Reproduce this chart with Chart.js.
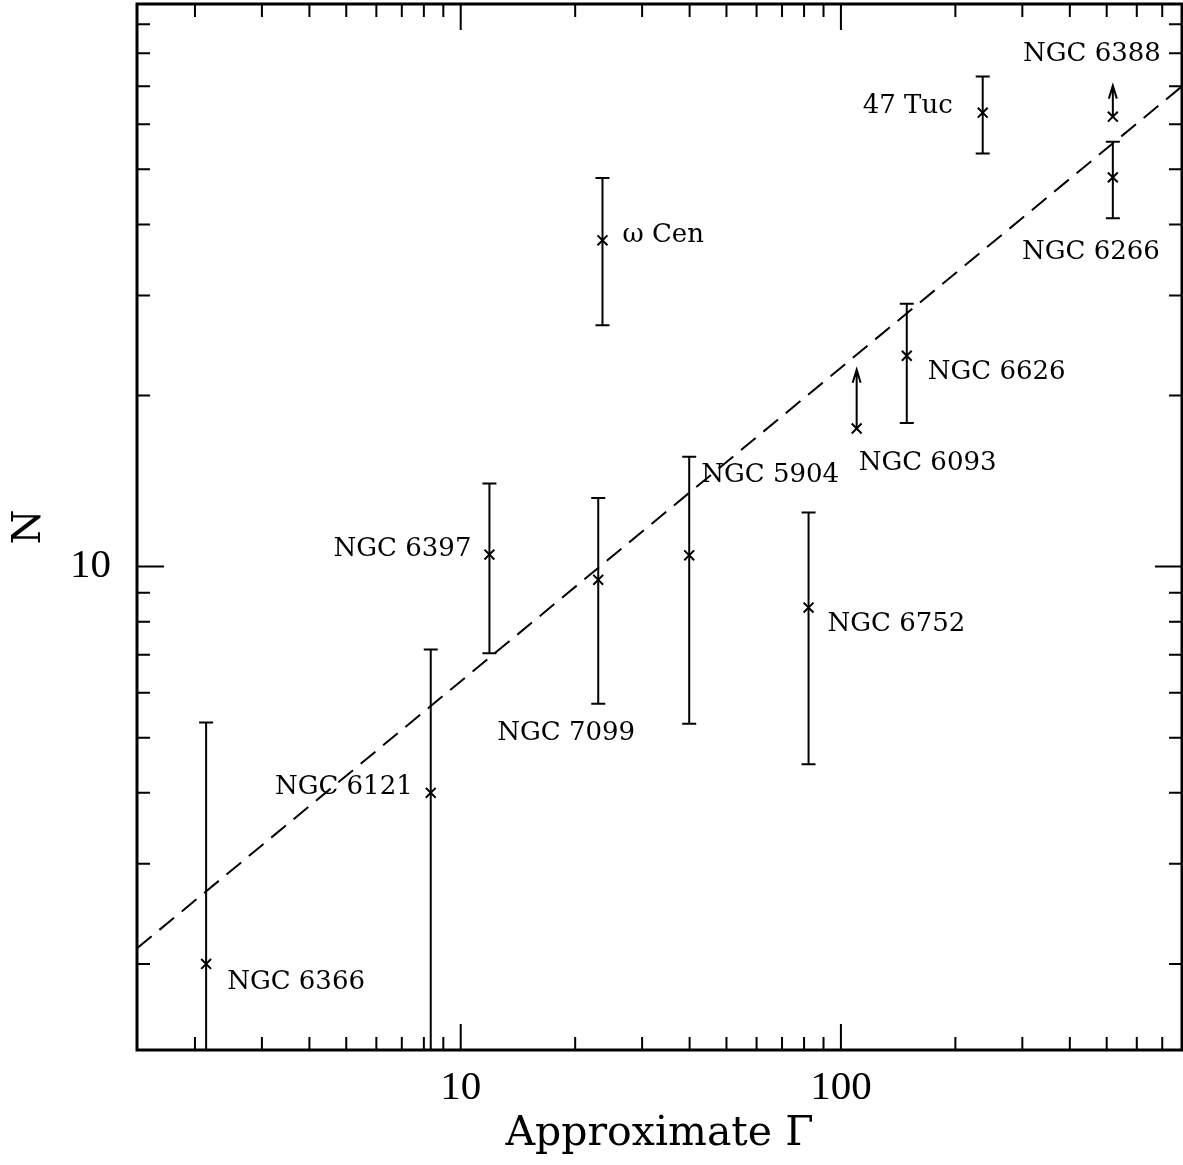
<!DOCTYPE html>
<html>
<head>
<meta charset="utf-8">
<title>N vs approximate Gamma</title>
<script src="https://cdn.jsdelivr.net/npm/chart.js@4.4.1/dist/chart.umd.min.js"></script>
<style>
  html, body { margin: 0; padding: 0; background: #fff; }
  #wrap { width: 1183px; height: 1165px; position: relative; }
</style>
</head>
<body>
<div id="wrap"><canvas id="chart"></canvas></div>
<script>
// ---------------------------------------------------------------------------
// Values (log-log axes)
// ---------------------------------------------------------------------------
const clusters = ['NGC 6366', 'NGC 6121', 'NGC 6397', 'NGC 7099', 'ω Cen', 'NGC 5904',
                  'NGC 6752', 'NGC 6093', 'NGC 6626', '47 Tuc', 'NGC 6388', 'NGC 6266'];
const gamma  = [2.14, 8.34, 11.9, 23.0, 23.6, 39.9, 82.2, 110, 149, 236, 519, 519];
const nValue = [2.00, 4.00, 10.5, 9.48, 37.5, 10.47, 8.47, 17.5, 23.5, 62.9, 61.9, 48.4];
const nUpper = [5.32, 7.15, 14.0, 13.2, 48.3, 15.6, 12.45, null, 29.0, 72.8, null, 55.9];
const nLower = [1.0, 1.0, 7.04, 5.74, 26.6, 5.29, 4.49, null, 17.9, 53.3, null, 41.0];
// lower limits: arrow drawn from the point up to this value
const nLimitTo = [null, null, null, null, null, null, null, 22.2, null, null, 70.2, null];

// dashed fit line, end points at the plot edges
const fitGamma = [1.408, 789];
const fitN = [2.13, 70.0];

const xRange = [1.408, 789];
const yRange = [1.411, 97.7];
const xMajorTicks = [10, 100];
const xMinorTicks = [2, 3, 4, 5, 6, 7, 8, 9, 20, 30, 40, 50, 60, 70, 80, 90, 200, 300, 400, 500, 600, 700];
const yMajorTicks = [10];
const yMinorTicks = [2, 3, 4, 5, 6, 7, 8, 9, 20, 30, 40, 50, 60, 70, 80, 90];

// label placement relative to each marker, in pixels (layout only)
const labelLayout = [
  { dx: 21, dy: 16, align: 'left' },     // NGC 6366
  { dx: -18, dy: -8, align: 'right' },   // NGC 6121
  { dx: -18, dy: -8, align: 'right' },   // NGC 6397
  { dx: -101, dy: 151, align: 'left' },  // NGC 7099
  { dx: 20, dy: -8, align: 'left' },     // omega Cen
  { dx: 12, dy: -83, align: 'left' },    // NGC 5904
  { dx: 19, dy: 14, align: 'left' },     // NGC 6752
  { dx: 2, dy: 32, align: 'left' },      // NGC 6093
  { dx: 21, dy: 14, align: 'left' },     // NGC 6626
  { dx: -30, dy: -9, align: 'right' },   // 47 Tuc
  { dx: 48, dy: -65, align: 'right' },   // NGC 6388
  { dx: 47, dy: 72, align: 'right' }     // NGC 6266
];

const INK = '#000';
const LABEL_FONT = '26px "DejaVu Serif"';
const LABEL_CAP = 19; // approx cap height of LABEL_FONT

// error bars and lower-limit arrows
const errorBarPlugin = {
  id: 'errorBars',
  afterDatasetsDraw(chart) {
    const { ctx, chartArea: a, scales: { x, y } } = chart;
    ctx.save();
    ctx.beginPath();
    ctx.rect(a.left, a.top, a.width, a.height);
    ctx.clip();
    ctx.strokeStyle = INK;
    ctx.lineWidth = 2;
    const cap = 7;
    gamma.forEach((g, i) => {
      const px = x.getPixelForValue(g);
      if (nUpper[i] != null) {
        const top = y.getPixelForValue(nUpper[i]);
        const bot = y.getPixelForValue(nLower[i]);
        ctx.beginPath();
        ctx.moveTo(px, top); ctx.lineTo(px, bot);
        ctx.moveTo(px - cap, top); ctx.lineTo(px + cap, top);
        if (bot <= a.bottom) { ctx.moveTo(px - cap, bot); ctx.lineTo(px + cap, bot); }
        ctx.stroke();
      }
      if (nLimitTo[i] != null) {
        const from = y.getPixelForValue(nValue[i]);
        const tip = y.getPixelForValue(nLimitTo[i]);
        ctx.beginPath();
        ctx.moveTo(px, from); ctx.lineTo(px, tip);
        ctx.moveTo(px - 4, tip + 13); ctx.lineTo(px, tip); ctx.lineTo(px + 4, tip + 13);
        ctx.stroke();
      }
    });
    ctx.restore();
  }
};

// cluster names beside the markers
const labelPlugin = {
  id: 'clusterLabels',
  afterDatasetsDraw(chart) {
    const { ctx, scales: { x, y } } = chart;
    ctx.save();
    ctx.fillStyle = INK;
    ctx.font = LABEL_FONT;
    ctx.textBaseline = 'alphabetic';
    clusters.forEach((name, i) => {
      const lay = labelLayout[i];
      ctx.textAlign = lay.align;
      const px = x.getPixelForValue(gamma[i]) + lay.dx;
      const py = y.getPixelForValue(nValue[i]) + lay.dy + LABEL_CAP / 2;
      ctx.fillText(name, px, py);
    });
    ctx.restore();
  }
};

// boxed frame with inward ticks on all four sides
const framePlugin = {
  id: 'frame',
  afterDraw(chart) {
    const { ctx, chartArea: a, scales: { x, y } } = chart;
    ctx.save();
    ctx.strokeStyle = INK;
    ctx.lineWidth = 2;
    ctx.beginPath();
    const xTick = (v, len) => {
      const p = x.getPixelForValue(v);
      ctx.moveTo(p, a.bottom); ctx.lineTo(p, a.bottom - len);
      ctx.moveTo(p, a.top); ctx.lineTo(p, a.top + len);
    };
    const yTick = (v, len) => {
      const p = y.getPixelForValue(v);
      ctx.moveTo(a.left, p); ctx.lineTo(a.left + len, p);
      ctx.moveTo(a.right, p); ctx.lineTo(a.right - len, p);
    };
    xMinorTicks.forEach(v => xTick(v, 13));
    xMajorTicks.forEach(v => xTick(v, 26));
    yMinorTicks.forEach(v => yTick(v, 13));
    yMajorTicks.forEach(v => yTick(v, 27));
    ctx.stroke();
    ctx.lineWidth = 3;
    ctx.strokeRect(a.left, a.top, a.width, a.height);
    ctx.restore();
  }
};

// drop the automatic edge padding Chart.js reserves for tick labels
const noEdgePadding = s => {
  s.paddingTop = 0; s.paddingBottom = 0; s.paddingLeft = 0; s.paddingRight = 0;
};

new Chart(document.getElementById('chart'), {
  type: 'scatter',
  data: {
    datasets: [
      {
        type: 'line',
        label: 'fit',
        data: fitGamma.map((g, i) => ({ x: g, y: fitN[i] })),
        borderColor: INK,
        borderWidth: 2,
        borderDash: [19, 10],
        pointRadius: 0,
        fill: false
      },
      {
        label: 'clusters',
        data: gamma.map((g, i) => ({ x: g, y: nValue[i] })),
        pointStyle: 'crossRot',
        pointRadius: 7,
        borderColor: INK,
        borderWidth: 2
      }
    ]
  },
  options: {
    responsive: true,
    maintainAspectRatio: false,
    devicePixelRatio: 1,
    animation: false,
    layout: { autoPadding: false, padding: { top: 4, right: 1, left: 0, bottom: 0 } },
    plugins: { legend: { display: false }, tooltip: { enabled: false } },
    scales: {
      x: {
        type: 'logarithmic',
        min: xRange[0],
        max: xRange[1],
        grid: { display: false, drawTicks: false },
        border: { display: false },
        afterBuildTicks: s => { s.ticks = xMajorTicks.map(v => ({ value: v })); },
        afterFit: s => { s.height = 115; noEdgePadding(s); },
        ticks: {
          color: INK,
          font: { family: 'Liberation Serif', size: 41 },
          padding: 14,
          maxRotation: 0,
          autoSkip: false,
          callback: v => String(v)
        },
        title: {
          display: true,
          text: 'Approximate Γ',
          color: INK,
          font: { family: 'DejaVu Serif', size: 41 },
          padding: { top: 0, bottom: 6 }
        }
      },
      y: {
        type: 'logarithmic',
        min: yRange[0],
        max: yRange[1],
        grid: { display: false, drawTicks: false },
        border: { display: false },
        afterBuildTicks: s => { s.ticks = yMajorTicks.map(v => ({ value: v })); },
        afterFit: s => { s.width = 137; noEdgePadding(s); },
        ticks: {
          color: INK,
          font: { family: 'Liberation Serif', size: 41 },
          padding: 26,
          autoSkip: false,
          callback: v => String(v)
        },
        title: {
          display: true,
          text: 'N',
          color: INK,
          font: { family: 'DejaVu Serif', size: 40 },
          padding: { top: 6, bottom: 0 }
        }
      }
    }
  },
  plugins: [errorBarPlugin, labelPlugin, framePlugin]
});
</script>
</body>
</html>
